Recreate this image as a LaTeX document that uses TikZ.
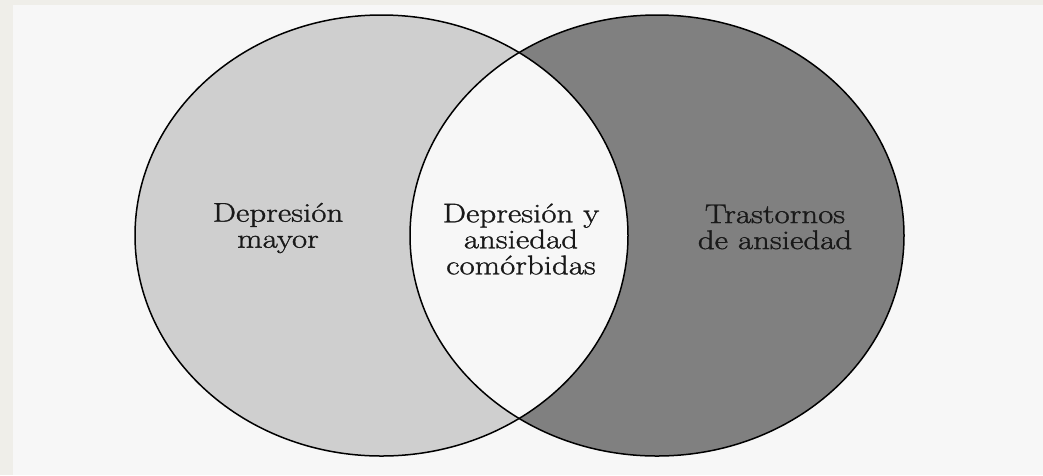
\documentclass[tikz,border=0pt]{standalone}
\usepackage{fontspec}
\newfontfamily\labfont[FakeStretch=1.22,FakeBold=1.2]{Latin Modern Roman}
\definecolor{outerbg}{HTML}{EFEEE9}
\definecolor{innerbg}{HTML}{F7F7F7}
\definecolor{leftfill}{HTML}{CFCFCF}
\definecolor{rightfill}{HTML}{808080}
\tikzset{
  outline/.style={draw=black, line width=1.5pt},
  lab/.style={font=\labfont\fontsize{27}{26}\selectfont, align=center, inner sep=0pt, text=black!90},
}
\begin{document}
\begin{tikzpicture}[x=1pt,y=-1pt]
\useasboundingbox (0,0) rectangle (1043,475);
\fill[outerbg] (0,0) rectangle (1043,475);
\fill[innerbg] (13,5) rectangle (1043,475);
\coordinate (cl) at (381.5,235.5);
\coordinate (cr) at (657,235.5);
\fill[leftfill] (cl) ellipse [x radius=246.5, y radius=220.5];
\fill[rightfill] (cr) ellipse [x radius=247, y radius=220.5];
\begin{scope}
  \clip (cl) ellipse [x radius=246.5, y radius=220.5];
  \fill[innerbg] (cr) ellipse [x radius=247, y radius=220.5];
\end{scope}
\draw[outline] (cl) ellipse [x radius=246.5, y radius=220.5];
\draw[outline] (cr) ellipse [x radius=247, y radius=220.5];
\node[lab] (dep) at (278,228) {Depresión\\mayor};
\node[lab] (com) at (521,239) {Depresión y\\ansiedad\\comórbidas};
\node[lab] (tra) at (775,227) {Trastornos\\de ansiedad};
\end{tikzpicture}
\end{document}
